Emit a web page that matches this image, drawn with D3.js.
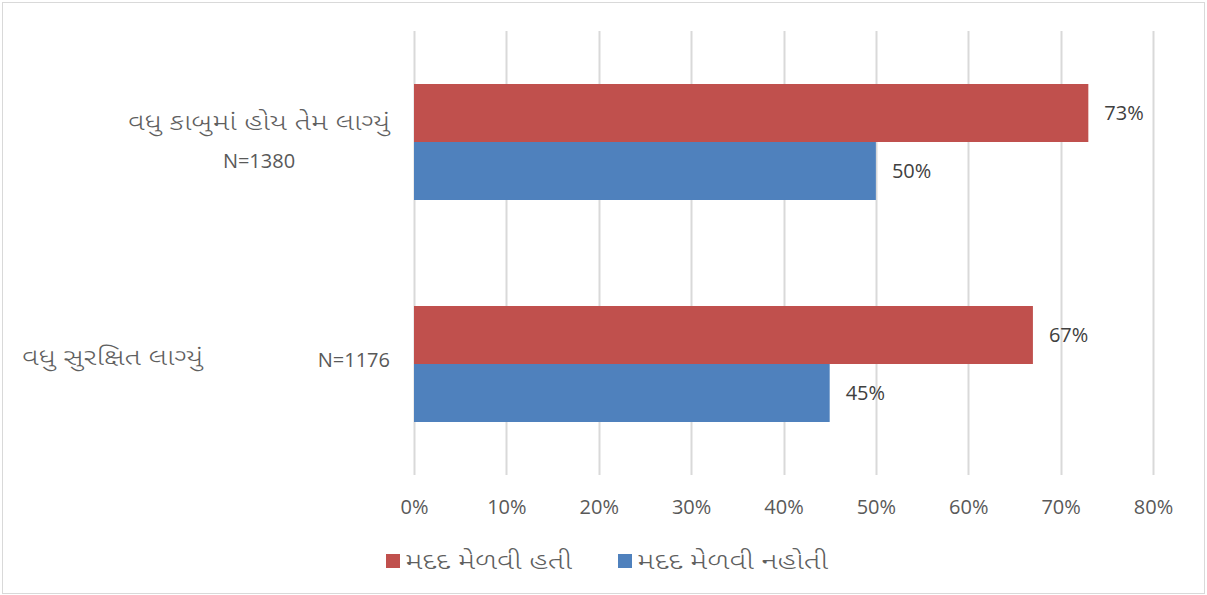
<!DOCTYPE html>
<html>
<head>
<meta charset="utf-8">
<script src="https://cdn.jsdelivr.net/npm/d3@7"></script>
<style>
  html, body { margin: 0; padding: 0; background: #fff; }
  svg { display: block; }
  .gu { font-family: "Noto Sans Gujarati", "Noto Sans", sans-serif; font-weight: 300; }
  .num { font-family: "Open Sans", "Noto Sans", sans-serif; }
</style>
</head>
<body>
<svg id="chart" width="1207" height="595"></svg>
<script>
// Categories (top to bottom) and their sample sizes
const categories = ["વધુ કાબુમાં હોય તેમ લાગ્યું", "વધુ સુરક્ષિત લાગ્યું"];
const sampleSizes = ["N=1380", "N=1176"];

// Series: share who received help vs. did not
const seriesNames = ["મદદ મેળવી હતી", "મદદ મેળવી નહોતી"];
const receivedHelp = [73, 67];
const noHelp = [50, 45];
const seriesColors = ["#C0504D", "#4F81BD"];

// Axis ticks
const tickValues = [0, 10, 20, 30, 40, 50, 60, 70, 80];

const svg = d3.select("#chart");
const W = 1207, H = 595;

// chart border
svg.append("rect")
  .attr("x", 2.5).attr("y", 2.5)
  .attr("width", W - 5).attr("height", H - 4)
  .attr("fill", "#fff").attr("stroke", "#D9D9D9").attr("stroke-width", 1);

const plot = { left: 414, right: 1153, top: 31, bottom: 475 };

const x = d3.scaleLinear().domain([0, 80]).range([plot.left, plot.right]);
const y0 = d3.scaleBand().domain(categories).range([plot.top, plot.bottom]).padding(0);
const y1 = d3.scaleBand().domain(seriesNames).range([0, y0.bandwidth()])
  .paddingInner(0).paddingOuter(0.914);

// vertical gridlines
svg.append("g").selectAll("line")
  .data(tickValues)
  .join("line")
  .attr("x1", d => Math.round(x(d)) + 0.5)
  .attr("x2", d => Math.round(x(d)) + 0.5)
  .attr("y1", plot.top).attr("y2", plot.bottom)
  .attr("stroke", "#D9D9D9").attr("stroke-width", 2);

// bottom axis labels
const axis = d3.axisBottom(x).tickValues(tickValues).tickFormat(d => d + "%").tickSize(0).tickPadding(0);
const axisG = svg.append("g").attr("transform", `translate(0, ${plot.bottom})`).call(axis);
axisG.select(".domain").remove();
axisG.selectAll("text")
  .attr("class", "num")
  .attr("y", 32)
  .attr("dy", "0.35em")
  .attr("fill", "#595959")
  .style("font-size", "20px");

// bars
const rows = categories.map((c, i) => ({
  cat: c,
  vals: [
    { s: seriesNames[0], v: receivedHelp[i], color: seriesColors[0] },
    { s: seriesNames[1], v: noHelp[i], color: seriesColors[1] }
  ]
}));

const groups = svg.append("g").selectAll("g")
  .data(rows)
  .join("g")
  .attr("transform", d => `translate(0, ${y0(d.cat)})`);

groups.selectAll("rect")
  .data(d => d.vals)
  .join("rect")
  .attr("x", x(0))
  .attr("y", d => y1(d.s))
  .attr("width", d => x(d.v) - x(0))
  .attr("height", y1.bandwidth())
  .attr("fill", d => d.color);

// value labels
groups.selectAll("text")
  .data(d => d.vals)
  .join("text")
  .attr("class", "num")
  .attr("x", d => x(d.v) + 16)
  .attr("y", d => y1(d.s) + y1.bandwidth() / 2)
  .attr("dy", "0.35em")
  .attr("fill", "#404040")
  .style("font-size", "20px")
  .text(d => d.v + "%");

// Gujarati text helper: wide, evenly spaced lettering
function guText(sel, txt, width) {
  return sel.append("text").attr("class", "gu")
    .attr("dy", "0.35em")
    .attr("fill", "#5f5f5f")
    .style("font-size", "23px")
    .attr("textLength", width)
    .attr("lengthAdjust", "spacingAndGlyphs")
    .text(txt);
}

// category labels
guText(svg, categories[0], 262).attr("x", 128).attr("y", 122);
svg.append("text").attr("class", "num")
  .attr("x", 259).attr("y", 161).attr("dy", "0.35em")
  .attr("text-anchor", "middle").attr("fill", "#595959")
  .style("font-size", "20px")
  .text(sampleSizes[0]);
guText(svg, categories[1], 181).attr("x", 22).attr("y", 357);
svg.append("text").attr("class", "num")
  .attr("x", 390).attr("y", 360).attr("dy", "0.35em")
  .attr("text-anchor", "end").attr("fill", "#595959")
  .style("font-size", "20px")
  .text(sampleSizes[1]);

// legend
const legendX = [386, 618];
const legendW = [167, 191];
legendX.forEach((lx, i) => {
  const g = svg.append("g").attr("transform", `translate(${lx}, 561)`);
  g.append("rect")
    .attr("x", 0).attr("y", -7).attr("width", 14).attr("height", 14)
    .attr("fill", seriesColors[i]);
  guText(g, seriesNames[i], legendW[i]).attr("x", 19).attr("y", 0);
});
</script>
</body>
</html>
